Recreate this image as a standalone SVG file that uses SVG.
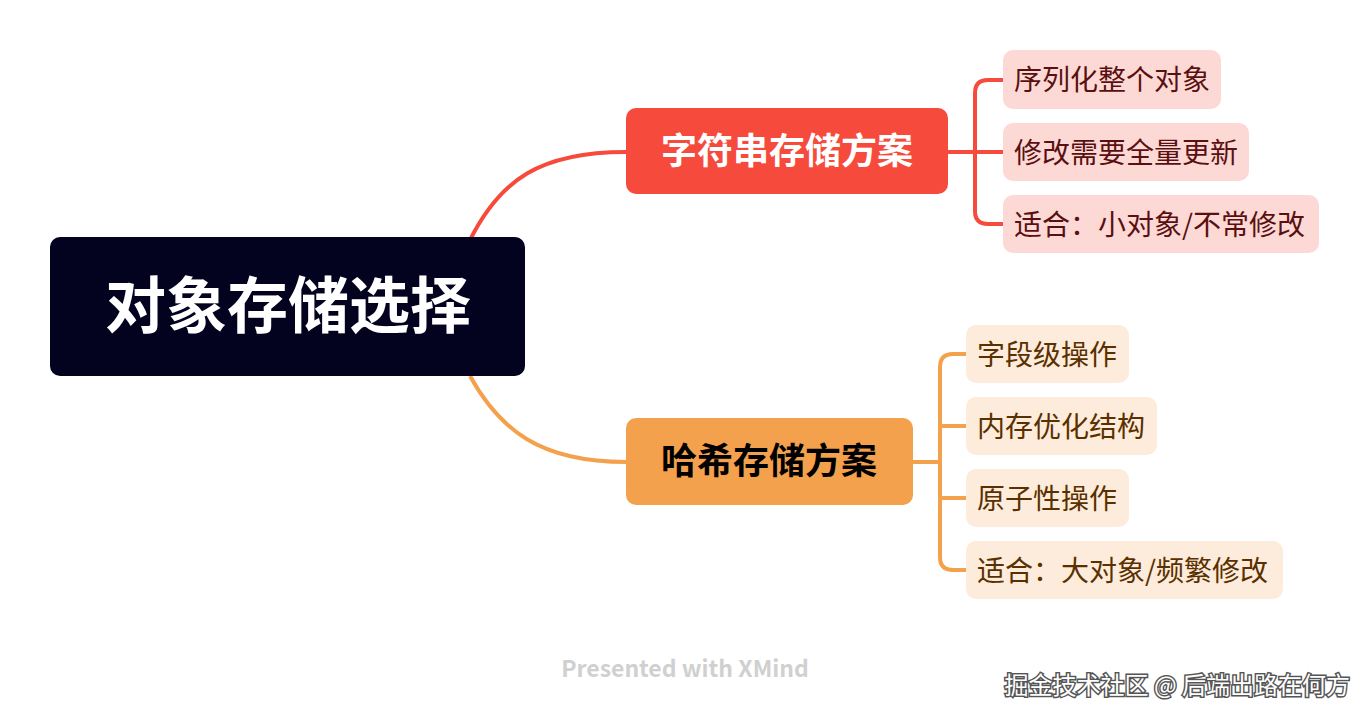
<svg xmlns="http://www.w3.org/2000/svg" width="1370" height="720" viewBox="0 0 1370 720">
<style>
.t{font-family:"Noto Sans CJK SC","Noto Sans",sans-serif}
.sub{font-size:28px;fill:#5a1010}
.subo{font-size:28px;fill:#5a3000}
.lr{fill:none;stroke:#f64a3c;stroke-width:4}
.lo{fill:none;stroke:#f4a14d;stroke-width:4}
</style>
<rect width="1370" height="720" fill="#fff"/>
<g id="connectors">
<path class="lr" d="M470 240 C500 180 540 152 626 152"/>
<path class="lo" d="M470 376 C500 430 540 462 626 462"/>
<path class="lr" d="M948 152 H1003 M1003 80 H988 Q975 80 975 93 V211 Q975 224 988 224 H1003"/>
<path class="lo" d="M913 462 H940 M966 354 H953 Q940 354 940 367 V557 Q940 570 953 570 H966 M940 426 H966 M940 498 H966"/>
</g>
<g id="root"><rect x="50" y="237" width="475" height="139" rx="10" fill="#03021f"/><text class="t" x="288" y="328" text-anchor="middle" font-size="61" font-weight="bold" fill="#fff">对象存储选择</text></g>
<g id="string"><rect x="626" y="108" width="322" height="86" rx="10" fill="#f64a3c"/><text class="t" x="787" y="164" text-anchor="middle" font-size="36" font-weight="bold" fill="#fff">字符串存储方案</text></g>
<g id="hash"><rect x="626" y="418" width="287" height="87" rx="10" fill="#f4a14d"/><text class="t" x="769" y="474" text-anchor="middle" font-size="36" font-weight="bold" fill="#000">哈希存储方案</text></g>
<g id="s1"><rect x="1003" y="50" width="218" height="59" rx="10" fill="#fdd9d6"/><text class="t sub" x="1014" y="90">序列化整个对象</text></g>
<g id="s2"><rect x="1003" y="123" width="246" height="58" rx="10" fill="#fdd9d6"/><text class="t sub" x="1014" y="163">修改需要全量更新</text></g>
<g id="s3"><rect x="1003" y="195" width="316" height="58" rx="10" fill="#fdd9d6"/><text class="t sub" x="1014" y="235">适合：小对象/不常修改</text></g>
<g id="h1"><rect x="966" y="325" width="163" height="58" rx="10" fill="#fdecdb"/><text class="t subo" x="977" y="365">字段级操作</text></g>
<g id="h2"><rect x="966" y="397" width="191" height="58" rx="10" fill="#fdecdb"/><text class="t subo" x="977" y="437">内存优化结构</text></g>
<g id="h3"><rect x="966" y="469" width="163" height="58" rx="10" fill="#fdecdb"/><text class="t subo" x="977" y="509">原子性操作</text></g>
<g id="h4"><rect x="966" y="541" width="317" height="58" rx="10" fill="#fdecdb"/><text class="t subo" x="977" y="581">适合：大对象/频繁修改</text></g>
<text class="t" x="685" y="677" text-anchor="middle" font-size="23" font-weight="bold" fill="#d0d0d0">Presented with XMind</text>
<text class="t" x="1350" y="694" text-anchor="end" font-size="24" fill="#fff" stroke="#555" stroke-width="3" paint-order="stroke">掘金技术社区 @ 后端出路在何方</text>
</svg>
